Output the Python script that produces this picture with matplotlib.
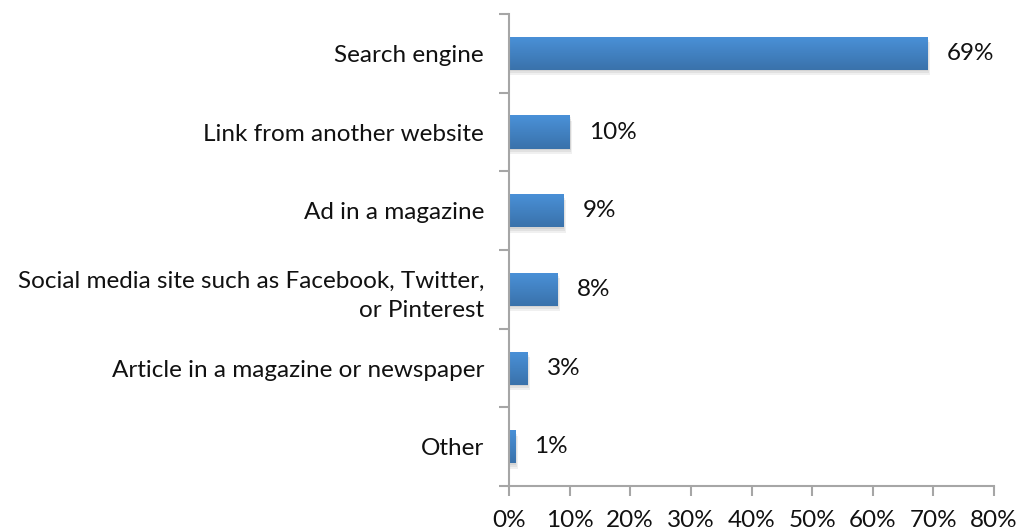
import matplotlib.pyplot as plt
import numpy as np
from matplotlib.colors import LinearSegmentedColormap

plt.rcParams["font.family"] = ["Lato", "DejaVu Sans"]

categories = [
    "Search engine",
    "Link from another website",
    "Ad in a magazine",
    "Social media site such as Facebook, Twitter,\nor Pinterest",
    "Article in a magazine or newspaper",
    "Other",
]
values = [69, 10, 9, 8, 3, 1]
xticks = [0, 10, 20, 30, 40, 50, 60, 70, 80]

axis_gray = "#a6a6a6"
text_color = "#111111"
fs = 17.5
grad = LinearSegmentedColormap.from_list("bar", ["#4a91d8", "#3a72ab"])

fig = plt.figure(figsize=(10.21, 5.31), dpi=100)
ax = fig.add_axes([0.4985, 0.0847, 0.4751, 0.8889])

n = len(categories)
pos = np.arange(n)
height = 0.42

ax.set_xlim(0, 80)
ax.set_ylim(n - 0.5, -0.5)

for y, v in zip(pos, values):
    # soft drop shadow under each bar, built from a few faint layers
    for k, off in enumerate([0.02, 0.045, 0.07]):
        ax.barh(y + off, v + 0.15 * (k + 1), height=height, left=0,
                color="#000000", alpha=0.06, zorder=1, linewidth=0)
    bar = ax.barh(y, v, height=height, left=0, color="none", zorder=2)[0]
    g = np.linspace(0, 1, 64).reshape(-1, 1)
    img = ax.imshow(g, cmap=grad, aspect="auto", zorder=2,
                    extent=[0, v, y + height / 2, y - height / 2])
    img.set_clip_path(bar)
    ax.text(v + 3.2, y, f"{v}%", va="center", ha="left", fontsize=fs,
            color=text_color, zorder=3)

ax.set_yticks(pos)
ax.set_yticklabels(categories, fontsize=fs, color=text_color, ha="right",
                   multialignment="right", linespacing=1.5)
ax.tick_params(axis="y", length=0, pad=18)
# tick marks between categories
ax.set_yticks(np.arange(n + 1) - 0.5, minor=True)
ax.tick_params(axis="y", which="minor", length=7, width=1.5, color=axis_gray,
               direction="out")

ax.set_xticks(xticks)
ax.set_xticklabels([f"{t}%" for t in xticks], fontsize=fs, color=text_color)
ax.tick_params(axis="x", length=7, width=1.5, color=axis_gray, pad=10)

for side in ["top", "right"]:
    ax.spines[side].set_visible(False)
for side in ["left", "bottom"]:
    ax.spines[side].set_color(axis_gray)
    ax.spines[side].set_linewidth(1.5)

ax.set_facecolor("white")
fig.savefig("out.png", dpi=100, facecolor="white")
